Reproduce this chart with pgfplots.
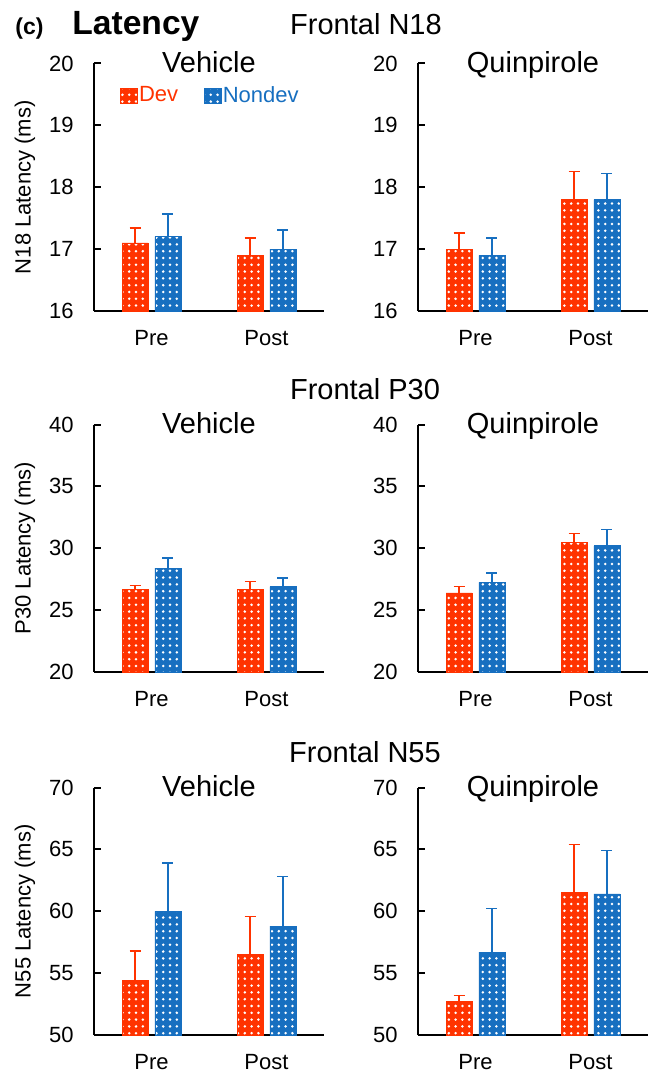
\documentclass[border=0pt]{standalone}
\usepackage{pgfplots}
\pgfplotsset{compat=1.18}
\usetikzlibrary{patterns.meta}
\usepackage{fontspec}
\setmainfont{Liberation Sans}
\definecolor{devred}{RGB}{255,51,0}
\definecolor{ndblue}{RGB}{23,111,192}

\pgfplotsset{
  /pgf/number format/assume math mode=true,
  panel/.style={
    width=115pt, height=123.75pt, scale only axis,
    xmin=0, xmax=2, enlargelimits=false,
    xtick={0.5,1.5}, xticklabels={Pre,Post},
    axis x line*=bottom, axis y line*=left,
    axis line style={line width=1pt, -},
    x tick style={draw=none},
    y tick style={line width=1pt, black},
    tick align=inside, major tick length=3.3pt,
    tick label style={font=\fontsize{11}{13}\selectfont},
    yticklabel style={anchor=east, inner sep=0pt, xshift=-10pt},
    xticklabel style={anchor=base, inner sep=0pt, yshift=-14pt},
    ylabel style={at={(axis description cs:-0.3,0.5)}, anchor=center, font=\fontsize{11}{13}\selectfont},
    title style={at={(0.5,1)}, anchor=base, yshift=-10.5pt, font=\fontsize{14.5}{17}\selectfont},
    ybar,
    legend image code/.code={\path[#1] (0pt,-3.75pt) rectangle (8.5pt,3.75pt);},
  },
  devbar/.style={fill=devred, draw=devred, line width=0.3pt, bar width=13pt, bar shift=-8.2pt,
    postaction={pattern={Dots[distance=3.4pt,radius=0.7pt]}, pattern color=white},
    error bars/y dir=plus, error bars/y explicit,
    error bars/error bar style={line width=0.7pt, devred, solid},
    error bars/error mark options={line width=0.7pt, devred, mark size=2.75pt, rotate=90}},
  ndbar/.style={fill=ndblue, draw=ndblue, line width=0.3pt, bar width=13pt, bar shift=8.2pt,
    postaction={pattern={Dots[distance=3.4pt,radius=0.7pt]}, pattern color=white},
    error bars/y dir=plus, error bars/y explicit,
    error bars/error bar style={line width=0.7pt, ndblue, solid},
    error bars/error mark options={line width=0.7pt, ndblue, mark size=2.75pt, rotate=90}},
}

\begin{document}
\begin{tikzpicture}
\useasboundingbox (0,0) rectangle (328pt,-537pt);

\node[anchor=base west, inner sep=0pt, font=\bfseries\fontsize{11.5}{13}\selectfont] at (7.5pt,-17.5pt) {(c)};
\node[anchor=base west, inner sep=0pt, font=\bfseries\fontsize{16.8}{20}\selectfont] at (36pt,-17.5pt) {Latency};
\node[anchor=base, inner sep=0pt, font=\fontsize{14.5}{17}\selectfont] at (183pt,-17.5pt) {Frontal N18};
\node[anchor=base, inner sep=0pt, font=\fontsize{14.5}{17}\selectfont] at (182.5pt,-200pt) {Frontal P30};
\node[anchor=base, inner sep=0pt, font=\fontsize{14.5}{17}\selectfont] at (182.5pt,-381pt) {Frontal N55};

% Row 1
\begin{axis}[panel, at={(47pt,-155.5pt)}, anchor=south west,
  ymin=16, ymax=20, ytick={16,17,18,19,20},
  title={Vehicle}, ylabel={N18 Latency (ms)},
  legend columns=2,
  legend style={draw=none, fill=none, inner sep=0pt, outer sep=0pt,
    at={(axis description cs:0.113,0.869)}, anchor=west,
    font=\fontsize{11}{13}\selectfont,
    nodes={inner sep=0.75pt},
    /tikz/every even column/.append style={column sep=12pt}},
  legend image code/.code={\path[#1] (0pt,-3.75pt) rectangle (8.5pt,3.75pt);}]
\addplot[devbar] coordinates {(0.5,17.1) +- (0,0.24) (1.5,16.9) +- (0,0.28)};
\addlegendentry{\textcolor{devred}{Dev}}
\addplot[ndbar] coordinates {(0.5,17.2) +- (0,0.37) (1.5,17.0) +- (0,0.31)};
\addlegendentry{\textcolor{ndblue}{Nondev}}
\end{axis}

\begin{axis}[panel, at={(209pt,-155.5pt)}, anchor=south west,
  ymin=16, ymax=20, ytick={16,17,18,19,20},
  title={Quinpirole}]
\addplot[devbar] coordinates {(0.5,17.0) +- (0,0.26) (1.5,17.8) +- (0,0.45)};
\addplot[ndbar] coordinates {(0.5,16.9) +- (0,0.28) (1.5,17.8) +- (0,0.42)};
\end{axis}

% Row 2
\begin{axis}[panel, at={(47pt,-336pt)}, anchor=south west,
  ymin=20, ymax=40, ytick={20,25,30,35,40},
  title={Vehicle}, ylabel={P30 Latency (ms)}]
\addplot[devbar] coordinates {(0.5,26.7) +- (0,0.3) (1.5,26.7) +- (0,0.6)};
\addplot[ndbar] coordinates {(0.5,28.4) +- (0,0.8) (1.5,26.9) +- (0,0.7)};
\end{axis}

\begin{axis}[panel, at={(209pt,-336pt)}, anchor=south west,
  ymin=20, ymax=40, ytick={20,25,30,35,40},
  title={Quinpirole}]
\addplot[devbar] coordinates {(0.5,26.4) +- (0,0.5) (1.5,30.5) +- (0,0.7)};
\addplot[ndbar] coordinates {(0.5,27.25) +- (0,0.75) (1.5,30.2) +- (0,1.3)};
\end{axis}

% Row 3
\begin{axis}[panel, at={(47pt,-517.5pt)}, anchor=south west,
  ymin=50, ymax=70, ytick={50,55,60,65,70},
  title={Vehicle}, ylabel={N55 Latency (ms)}]
\addplot[devbar] coordinates {(0.5,54.4) +- (0,2.4) (1.5,56.5) +- (0,3.1)};
\addplot[ndbar] coordinates {(0.5,60.0) +- (0,3.9) (1.5,58.8) +- (0,4.0)};
\end{axis}

\begin{axis}[panel, at={(209pt,-517.5pt)}, anchor=south west,
  ymin=50, ymax=70, ytick={50,55,60,65,70},
  title={Quinpirole}]
\addplot[devbar] coordinates {(0.5,52.7) +- (0,0.5) (1.5,61.5) +- (0,3.9)};
\addplot[ndbar] coordinates {(0.5,56.7) +- (0,3.5) (1.5,61.4) +- (0,3.5)};
\end{axis}
\end{tikzpicture}
\end{document}
